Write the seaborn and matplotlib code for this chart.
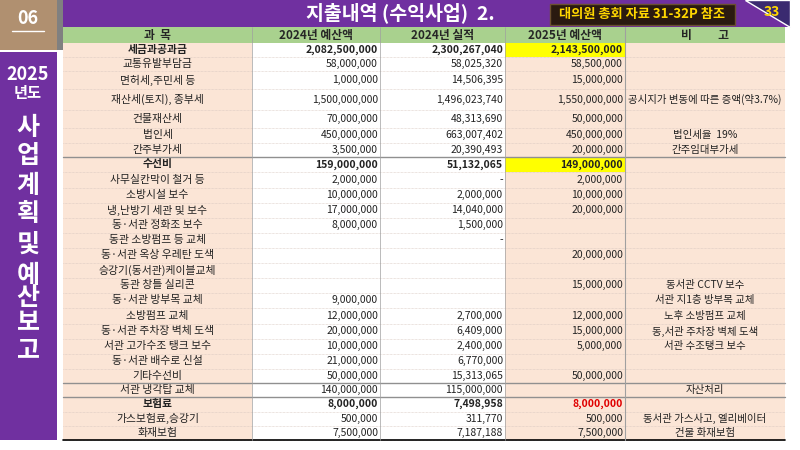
import matplotlib
matplotlib.use("Agg")
import matplotlib.pyplot as plt
import seaborn as sns
from matplotlib.patches import Rectangle, Polygon

sns.set_theme(style="white")
plt.rcParams["font.family"] = ["Noto Sans CJK KR", "Noto Sans CJK JP", "Noto Sans CJK SC", "DejaVu Sans"]

items = ["세금과공과금", "교통유발부담금", "면허세,주민세 등", "재산세(토지), 종부세", "건물재산세", "법인세",
         "간주부가세", "수선비", "사무실칸막이 철거 등", "소방시설 보수", "냉,난방기 세관 및 보수",
         "동·서관 정화조 보수", "동관 소방펌프 등 교체", "동·서관 옥상 우레탄 도색", "승강기(동서관)케이블교체",
         "동관 창틀 실리콘", "동·서관 방부목 교체", "소방펌프 교체", "동·서관 주차장 벽체 도색",
         "서관 고가수조 탱크 보수", "동·서관 배수로 신설", "기타수선비", "서관 냉각탑 교체", "보험료",
         "가스보험료,승강기", "화재보험"]
budget_2024 = [2082500000, 58000000, 1000000, 1500000000, 70000000, 450000000, 3500000, 159000000,
               2000000, 10000000, 17000000, 8000000, None, None, None, None, 9000000, 12000000,
               20000000, 10000000, 21000000, 50000000, 140000000, 8000000, 500000, 7500000]
actual_2024 = [2300267040, 58025320, 14506395, 1496023740, 48313690, 663007402, 20390493, 51132065,
               0, 2000000, 14040000, 1500000, 0, None, None, None, None, 2700000, 6409000, 2400000,
               6770000, 15313065, 115000000, 7498958, 311770, 7187188]
budget_2025 = [2143500000, 58500000, 15000000, 1550000000, 50000000, 450000000, 20000000, 149000000,
               2000000, 10000000, 20000000, None, None, 20000000, None, 15000000, None, 12000000,
               15000000, 5000000, None, 50000000, None, 8000000, 500000, 7500000]
notes = ["", "", "", "공시지가 변동에 따른 증액(약3.7%)", "", "법인세율  19%", "간주임대부가세", "", "", "",
         "", "", "", "", "", "동서관 CCTV 보수", "서관 지1층 방부목 교체", "노후 소방펌프 교체",
         "동,서관 주차장 벽체 도색", "서관 수조탱크 보수", "", "", "자산처리", "", "동서관 가스사고, 엘리베이터",
         "건물 화재보험"]
bold_rows = [0, 7, 23]
headers = ["과  목", "2024년 예산액", "2024년 실적", "2025년 예산액", "비          고"]

centers = [49, 64, 78, 100, 120, 135, 150, 164, 180, 195, 210, 225, 241, 255, 270, 285, 300, 316,
           331, 346, 361, 376, 390, 404, 419, 433]
bounds = [43] + [(centers[i] + centers[i + 1]) / 2 for i in range(len(centers) - 1)] + [440]
cols = [63, 252, 380, 505, 625, 785]

fig = plt.figure(figsize=(8, 4.5), dpi=100)
ax = fig.add_axes([0, 0, 1, 1])
ax.set_xlim(0, 800); ax.set_ylim(450, 0); ax.axis("off")

def rect(x0, y0, x1, y1, fc, ec="none", lw=0, z=1):
    ax.add_patch(Rectangle((x0, y0), x1 - x0, y1 - y0, facecolor=fc, edgecolor=ec, lw=lw, zorder=z))

# left panels
rect(0, 0, 57, 50, "#B09070")
ax.text(28, 19, "06", color="white", fontsize=13, fontweight="bold", ha="center", va="center")
ax.plot([12, 44], [31, 31], color="white", lw=1)
rect(57, 0, 63, 50, "#808080")
rect(0, 52, 57, 440, "#7030A0")
ax.text(28, 74, "2025", color="white", fontsize=13, fontweight="bold", ha="center", va="center")
ax.text(28, 93, "년도", color="white", fontsize=11, fontweight="bold", ha="center", va="center")
for ch, y in zip("사업계획및예산보고", [128, 156, 186, 214, 245, 276, 298, 323, 350]):
    ax.text(28, y, ch, color="white", fontsize=18, fontweight="bold", ha="center", va="center")

# title bar
rect(63, 0, 790, 27, "#7030A0")
ax.add_patch(Polygon([[745, 0], [790, 0], [790, 27]], closed=True, facecolor="#3A2A70", zorder=1.5))
ax.text(400, 13, "지출내역 (수익사업)  2.", color="white", fontsize=14, fontweight="bold", ha="center", va="center")
rect(550, 4, 735, 25, "#2A1A10", ec="#6B5030", lw=1, z=2)
ax.text(642, 14, "대의원 총회 자료 31-32P 참조", color="#FFD700", fontsize=9.5, fontweight="bold",
        ha="center", va="center", zorder=3)
ax.text(772, 12, "33", color="#FFD700", fontsize=10, fontweight="bold", ha="center", va="center", zorder=3)

# header row
rect(63, 27, 785, 43, "#A9D18E")
for i, h in enumerate(headers):
    ax.text((cols[i] + cols[i + 1]) / 2, 35, h, fontsize=8.5, fontweight="bold", ha="center", va="center")

peach = "#FBE5D6"
def fmt(v):
    if v is None:
        return ""
    if v == 0:
        return "-"
    return f"{v:,}"

for r in range(len(items)):
    y0, y1 = bounds[r], bounds[r + 1]
    yc = (y0 + y1) / 2
    rect(cols[0], y0, cols[1], y1, peach)
    rect(cols[1], y0, cols[3], y1, "white")
    rect(cols[3], y0, cols[4], y1, "#FFFF00" if r in (0, 7) else peach)
    rect(cols[4], y0, cols[5], y1, peach)
    b = "bold" if r in bold_rows else "normal"
    ax.text((cols[0] + cols[1]) / 2, yc, items[r], fontsize=7.8, fontweight=b, ha="center", va="center", color="#222")
    for ci, arr in zip([1, 2, 3], [budget_2024, actual_2024, budget_2025]):
        col = "#E00000" if (ci == 3 and r == 23) else "#222"
        ax.text(cols[ci + 1] - 2, yc, fmt(arr[r]), fontsize=7.5, fontweight=b, ha="right", va="center", color=col)
    ax.text((cols[4] + cols[5]) / 2, yc, notes[r], fontsize=7.5, ha="center", va="center", color="#222")
    ax.plot([cols[0], cols[5]], [y1, y1], color="#D8C8C0", lw=0.5, ls=(0, (1, 1)), zorder=2)

for r in [6, 21, 22]:
    ax.plot([cols[0], cols[5]], [bounds[r + 1]] * 2, color="#909090", lw=1, zorder=3)
ax.plot([cols[0], cols[5]], [440, 440], color="black", lw=1.2, zorder=3)
for x in cols[1:5]:
    ax.plot([x, x], [27, 440], color="#A0A0A0", lw=0.8 if x == cols[4] else 0.5, zorder=3)

fig.savefig("out.png", dpi=100)
